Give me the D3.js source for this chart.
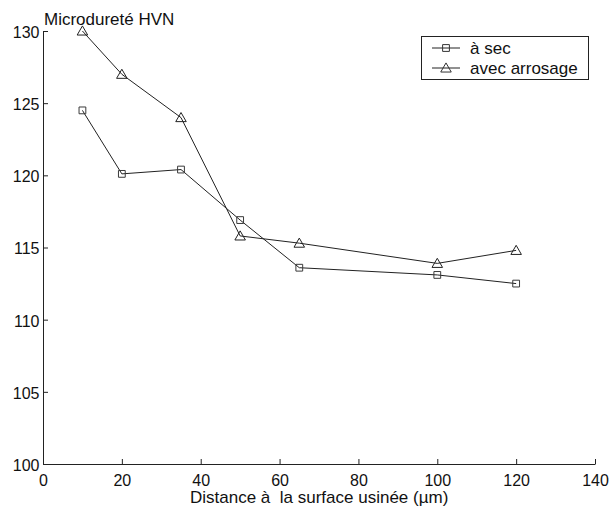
<!DOCTYPE html>
<html><head><meta charset="utf-8">
<script src="https://cdn.jsdelivr.net/npm/d3@7"></script>
<style>body{margin:0;background:#fff}svg{display:block}text{font-family:"Liberation Sans",Arial,sans-serif;fill:#111;white-space:pre}</style>
</head><body><svg id="c" width="610" height="508"></svg>
<script>
const xs = [10, 20, 35, 50, 65, 100, 120];
const sec = [124.5, 120.1, 120.4, 116.9, 113.6, 113.1, 112.5];
const arrosage = [130, 127, 124, 115.8, 115.3, 113.9, 114.8];
const xTicks = [0, 20, 40, 60, 80, 100, 120, 140];
const yTicks = [100, 105, 110, 115, 120, 125, 130];
const seriesNames = ["à sec", "avec arrosage"];

const svg = d3.select("#c");
const x = d3.scaleLinear().domain([0, 140]).range([43, 595]);
const y = d3.scaleLinear().domain([100, 130]).range([464, 31]);

const xAxis = svg.append("g").attr("transform", `translate(0,${y(100)})`)
  .call(d3.axisBottom(x).tickValues(xTicks).tickSizeInner(-5).tickSizeOuter(0).tickPadding(11));
const yAxis = svg.append("g").attr("transform", `translate(${x(0)},0)`)
  .call(d3.axisLeft(y).tickValues(yTicks).tickSizeInner(-5).tickSizeOuter(0).tickPadding(3.5));
[xAxis, yAxis].forEach(a => {
  a.selectAll("path").attr("stroke", "#222");
  a.selectAll("line").attr("stroke", "#222");
  a.selectAll("text").attr("font-size", 16).attr("font-family", '"Liberation Sans",Arial,sans-serif').attr("fill", "#111");
});
yAxis.selectAll("text").attr("dy", "0.4em");

const line = d3.line().x(d => x(d[0])).y(d => y(d[1]));
const d1 = xs.map((v, i) => [v, sec[i]]);
const d2 = xs.map((v, i) => [v, arrosage[i]]);
[d1, d2].forEach(d => svg.append("path").attr("d", line(d)).attr("fill", "none").attr("stroke", "#222").attr("stroke-width", 1));

const sq = d3.symbol().type(d3.symbolSquare).size(46);
const tri = d3.symbol().type(d3.symbolTriangle).size(48);
svg.selectAll(".s").data(d1).join("path").attr("d", sq)
  .attr("transform", d => `translate(${x(d[0])},${y(d[1])})`).attr("fill", "none").attr("stroke", "#3a3a3a");
svg.selectAll(".t").data(d2).join("path").attr("d", tri)
  .attr("transform", d => `translate(${x(d[0])},${y(d[1]) + 1})`).attr("fill", "none").attr("stroke", "#222");

// legend
const lg = svg.append("g");
lg.append("rect").attr("x", 421.5).attr("y", 36.5).attr("width", 167).attr("height", 43).attr("fill", "#fff").attr("stroke", "#222");
seriesNames.forEach((n, i) => {
  const yy = 48 + i * 20;
  lg.append("line").attr("x1", 432).attr("x2", 460).attr("y1", yy).attr("y2", yy).attr("stroke", "#222");
  lg.append("path").attr("d", i === 0 ? sq : tri).attr("transform", `translate(446,${yy + (i ? 1 : 0)})`).attr("fill", "none").attr("stroke", "#333");
  lg.append("text").attr("x", 470).attr("y", yy + 5.5).attr("font-size", 17).text(n);
});

svg.append("text").attr("x", 44).attr("y", 25).attr("font-size", 17).text("Microdureté HVN");
svg.append("text").attr("x", 190).attr("y", 503).attr("font-size", 17).text("Distance à  la surface usinée (µm)");
</script></body></html>
